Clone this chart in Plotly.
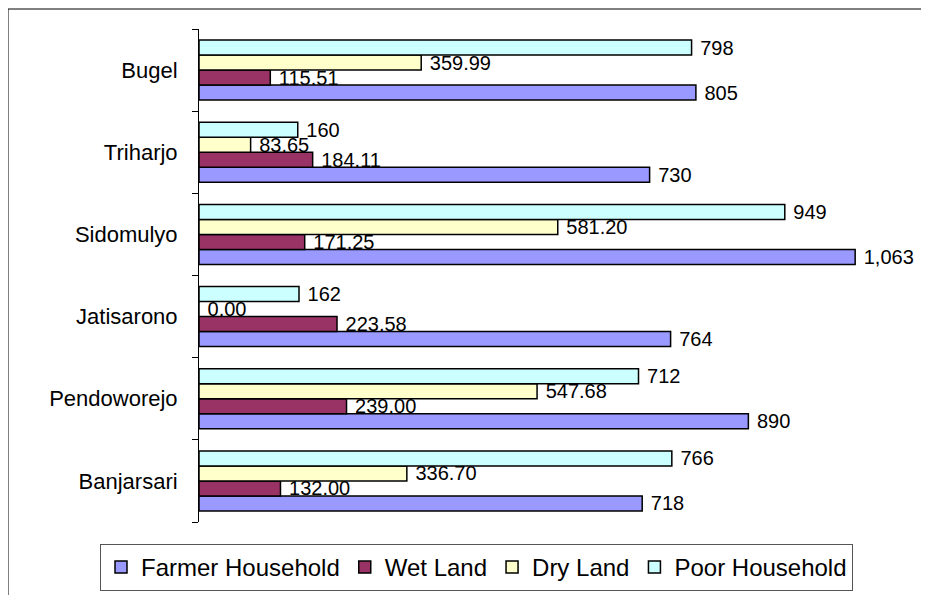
import plotly.graph_objects as go

categories = ["Banjarsari", "Pendoworejo", "Jatisarono", "Sidomulyo", "Triharjo", "Bugel"]
farmer_household = [718, 890, 764, 1063, 730, 805]
wet_land = [132.00, 239.00, 223.58, 171.25, 184.11, 115.51]
dry_land = [336.70, 547.68, 0.00, 581.20, 83.65, 359.99]
poor_household = [766, 712, 162, 949, 160, 798]

series = [
    ("Farmer Household", farmer_household, "#9999FF", "int"),
    ("Wet Land", wet_land, "#993366", "dec"),
    ("Dry Land", dry_land, "#FFFFCC", "dec"),
    ("Poor Household", poor_household, "#CCFFFF", "int"),
]

OFF = 8  # page body margin
W, H = 929 - OFF, 595 - OFF
# plot area in reference pixel coordinates
L, R, T, B = 199, 878, 29, 522

def px_x(p):
    return (p - L) / (R - L)

def px_y(p):
    return (B - p) / (B - T)

FONT = "Liberation Sans, Arial, sans-serif"

fig = go.Figure()
for name, vals, color, kind in series:
    if kind == "int":
        txt = [" " + f"{v:,.0f}" for v in vals]
    else:
        txt = [" " + f"{v:,.2f}" for v in vals]
    fig.add_trace(go.Bar(
        name=name, y=categories, x=vals, orientation="h",
        marker=dict(color=color, line=dict(color="black", width=1.5)),
        text=txt, textposition="outside", constraintext="none",
        textfont=dict(family=FONT, size=20, color="black"),
        cliponaxis=False,
    ))

fig.update_layout(
    width=W, height=H,
    margin=dict(l=L - OFF, r=W - (R - OFF), t=T - OFF, b=H - (B - OFF), autoexpand=False),
    barmode="group", bargap=0.27, bargroupgap=0,
    plot_bgcolor="white", paper_bgcolor="white",
    font=dict(family=FONT, size=20, color="black"),
    showlegend=True,
    legend=dict(
        orientation="h", x=px_x(100), xanchor="left", y=px_y(544), yanchor="top",
        bordercolor="#555555", borderwidth=1, font=dict(family=FONT, size=24),
        traceorder="normal", itemwidth=30,
    ),
    xaxis=dict(range=[0, 1100], visible=False),
    yaxis=dict(
        categoryorder="array", categoryarray=categories,
        showline=True, linecolor="black", linewidth=1,
        ticks="outside", tickson="boundaries", ticklen=6, tickcolor="black",
        showgrid=False, tickfont=dict(family=FONT, size=22), ticklabelstandoff=16,
    ),
    shapes=[dict(
        type="rect", xref="paper", yref="paper",
        x0=px_x(8), x1=px_x(960), y0=px_y(640), y1=px_y(9),
        line=dict(color="black", width=1), fillcolor="rgba(0,0,0,0)", layer="below",
    )],
)

fig.write_html("out.html")
